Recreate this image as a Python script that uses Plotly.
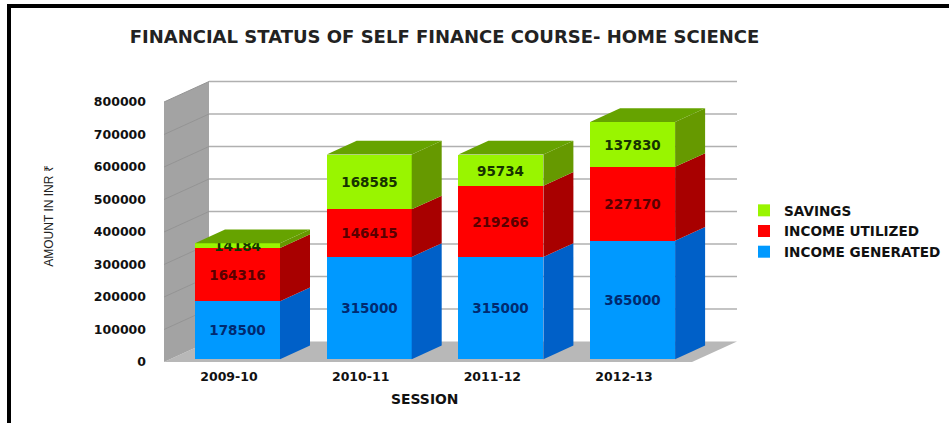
import plotly.graph_objects as go

sessions = ["2009-10", "2010-11", "2011-12", "2012-13"]
income_generated = [178500, 315000, 315000, 365000]
income_utilized = [164316, 146415, 219266, 227170]
savings = [14184, 168585, 95734, 137830]
y_ticks = [0, 100000, 200000, 300000, 400000, 500000, 600000, 700000, 800000]

W, H = 949, 423
L, R, T, B = 164, 740, 70, 362          # plot area in page pixels
X0_PX, X_STEP = 237.5, 131.7            # first category centre, px per category
Y0_PX, Y_K = 359.3, 0.000325            # value 0 of the bars, px per unit

def dxp(px): return px / X_STEP
def dyp(px): return px / Y_K

x_range = [(L - X0_PX) / X_STEP, (R - X0_PX) / X_STEP]
y_range = [(Y0_PX - B) / Y_K, (Y0_PX - T) / Y_K]
bar_w = dxp(85)
bar_dx, bar_dy = dxp(30), dyp(13.7)
wall_dx, wall_dy = dxp(45), dyp(20.5)
tick_shift = y_range[0]
xs = list(range(len(sessions)))

series = [
    ("INCOME GENERATED", income_generated, "#0099ff", "#0060c8", "#002a70"),
    ("INCOME UTILIZED", income_utilized, "#ff0000", "#a80000", "#5a0000"),
    ("SAVINGS", savings, "#99f500", "#669900", "#163300"),
]

fig = go.Figure()

# front faces
for name, vals, front, side, txt in series:
    fig.add_trace(go.Bar(
        x=xs, y=vals, name=name, width=bar_w, marker=dict(color=front, line=dict(width=0)),
        text=[str(v) for v in vals], textposition="inside", insidetextanchor="middle",
        textangle=0, constraintext="none",
        textfont=dict(family="DejaVu Sans", size=13.5, color=txt, weight=700),
    ))

# side and top faces of each stack, derived from the values
base = [0] * len(xs)
for name, vals, front, side, txt in series:
    for i, x in enumerate(xs):
        xr = x + bar_w / 2
        y0, y1 = base[i], base[i] + vals[i]
        fig.add_trace(go.Scatter(
            x=[xr, xr + bar_dx, xr + bar_dx, xr, xr],
            y=[y0, y0 + bar_dy, y1 + bar_dy, y1, y0],
            mode="lines", fill="toself", fillcolor=side, line=dict(width=0),
            showlegend=False, hoverinfo="skip"))
        base[i] = y1
for i, x in enumerate(xs):
    xl, xr = x - bar_w / 2, x + bar_w / 2
    t = base[i]
    fig.add_trace(go.Scatter(
        x=[xl, xr, xr + bar_dx, xl + bar_dx, xl],
        y=[t, t, t + bar_dy, t + bar_dy, t],
        mode="lines", fill="toself", fillcolor="#66a300", line=dict(width=0),
        showlegend=False, hoverinfo="skip"))

# walls and floor
xf, xe = x_range[0], (692 - X0_PX) / X_STEP
yf = y_range[0]
def poly(pts):
    return "M" + "L".join(f"{a},{b}" for a, b in pts) + "Z"
shapes = [
    dict(type="path", layer="below", xref="x", yref="y", line_width=0, fillcolor="#b8b8b8",
         path=poly([(xf, yf), (xe, yf), (xe + wall_dx, yf + wall_dy), (xf + wall_dx, yf + wall_dy)])),
    dict(type="path", layer="below", xref="x", yref="y", line_width=0, fillcolor="#a3a3a3",
         path=poly([(xf, yf), (xf, yf + y_ticks[-1]), (xf + wall_dx, yf + y_ticks[-1] + wall_dy),
                    (xf + wall_dx, yf + wall_dy)])),
]
for v in y_ticks[1:]:
    yv = yf + v
    shapes.append(dict(type="line", layer="below", xref="x", yref="y",
                       x0=xf + wall_dx, x1=xe + wall_dx, y0=yv + wall_dy, y1=yv + wall_dy,
                       line=dict(color="#b0b0b0", width=1.5)))
    shapes.append(dict(type="line", layer="below", xref="x", yref="y",
                       x0=xf, x1=xf + wall_dx, y0=yv, y1=yv + wall_dy,
                       line=dict(color="#949494", width=1)))

# picture frame (top and left black rules)
def pxx(p): return (p - L) / (R - L)
def pxy(p): return (B - p) / (B - T)
for a, b, c, d in [(7, 4, W, 8), (7, 4, 11, H)]:
    shapes.append(dict(type="rect", xref="paper", yref="paper", line_width=0, fillcolor="black",
                       x0=pxx(a), x1=pxx(c), y0=pxy(b), y1=pxy(d), layer="above"))

tick_font = dict(family="DejaVu Sans", size=12.5, color="#111111", weight=700)
fig.update_layout(
    width=W, height=H, autosize=False, barmode="stack", bargap=0,
    paper_bgcolor="white", plot_bgcolor="rgba(0,0,0,0)",
    margin=dict(l=L, r=W - R, t=T, b=H - B, pad=0, autoexpand=False),
    title=dict(text="FINANCIAL STATUS OF SELF FINANCE COURSE- HOME SCIENCE",
               x=444.5 / W, xanchor="center", y=1 - 37 / H, yanchor="middle",
               font=dict(family="DejaVu Sans", size=18, color="#222222", weight=700)),
    xaxis=dict(range=x_range, tickmode="array", tickvals=[x - 0.065 for x in xs], ticktext=sessions,
               showgrid=False, zeroline=False, showline=False, ticks="", tickfont=tick_font,
               ticklabelstandoff=5),
    yaxis=dict(range=y_range, tickmode="array", tickvals=[v + tick_shift for v in y_ticks],
               ticktext=[str(v) for v in y_ticks], showgrid=False, zeroline=False, showline=False,
               ticks="", tickfont=tick_font, ticklabelstandoff=17,
               title=dict(text="AMOUNT IN INR ₹", standoff=37,
                          font=dict(family="Liberation Sans", size=12, color="#222222"))),
    legend=dict(x=pxx(744), xanchor="left", y=pxy(195), yanchor="top", traceorder="reversed",
                bgcolor="rgba(0,0,0,0)", font=dict(family="DejaVu Sans", size=13.6, color="#111111", weight=600)),
    shapes=shapes,
    annotations=[dict(text="SESSION", xref="paper", yref="paper", x=pxx(424), y=pxy(399),
                      xanchor="center", yanchor="middle", showarrow=False,
                      font=dict(family="DejaVu Sans", size=13.9, color="#111111", weight=700))],
)

fig.write_html("out.html", config={"displayModeBar": False},
               post_script="document.body.style.margin='0';document.body.style.overflow='hidden';")
